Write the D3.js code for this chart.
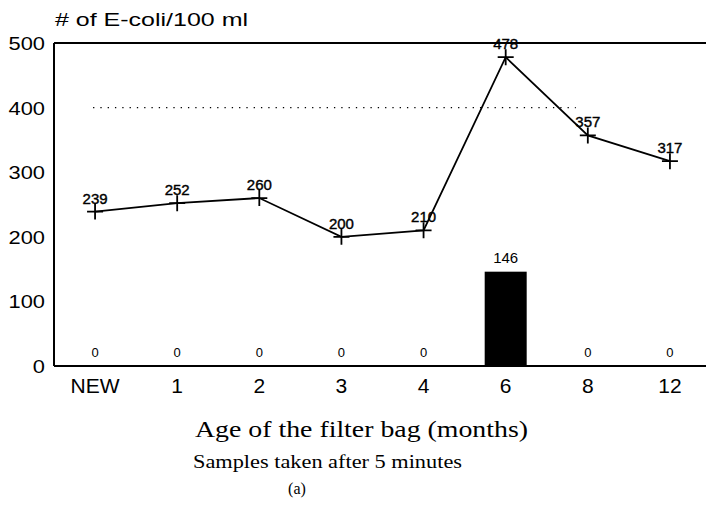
<!DOCTYPE html>
<html>
<head>
<meta charset="utf-8">
<script src="https://cdn.jsdelivr.net/npm/d3@7"></script>
<style>
  body { margin: 0; background: #fff; }
  svg { display: block; }
</style>
</head>
<body>
<svg id="chart" width="706" height="511"></svg>
<script>
// data
const ages = ["NEW", "1", "2", "3", "4", "6", "8", "12"];
const lineValues = [239, 252, 260, 200, 210, 478, 357, 317];
const barValues = [0, 0, 0, 0, 0, 146, 0, 0];
const refLevel = 400;
const yTicks = [0, 100, 200, 300, 400, 500];

const svg = d3.select("#chart");
const plotLeft = 54, plotRight = 711, plotTop = 43, plotBottom = 366;
const sans = "Liberation Sans, Arial, sans-serif";
const serif = "Liberation Serif, Times New Roman, serif";

// scales
const x = d3.scalePoint().domain(ages).range([plotLeft, plotRight]).padding(0.5);
const y = d3.scaleLinear().domain([0, 500]).range([plotBottom, plotTop]);

// frame: top line, left axis
svg.append("line").attr("x1", plotLeft).attr("x2", 706).attr("y1", plotTop).attr("y2", plotTop)
  .attr("stroke", "#000").attr("stroke-width", 1.8);
svg.append("line").attr("x1", plotLeft).attr("x2", plotLeft).attr("y1", plotTop).attr("y2", plotBottom)
  .attr("stroke", "#000").attr("stroke-width", 2);

// reference dotted line at 400
svg.append("line")
  .attr("x1", x("NEW") - 2).attr("x2", x("8") - 12)
  .attr("y1", y(refLevel)).attr("y2", y(refLevel))
  .attr("stroke", "#000").attr("stroke-width", 1.3)
  .attr("stroke-dasharray", "1.3,6");

// bars
const barW = 42;
svg.selectAll(".bar").data(barValues).enter().append("rect")
  .attr("x", (d, i) => x(ages[i]) - barW / 2)
  .attr("y", d => y(d))
  .attr("width", barW)
  .attr("height", d => plotBottom - y(d))
  .attr("fill", "#000");

svg.selectAll(".barlabel").data(barValues).enter().append("text")
  .attr("x", (d, i) => x(ages[i]))
  .attr("y", d => y(d) - 9)
  .attr("text-anchor", "middle")
  .style("font-family", sans)
  .style("font-size", d => d > 0 ? "15px" : "13px")
  .text(d => d);

// baseline
svg.append("line").attr("x1", plotLeft).attr("x2", 706).attr("y1", plotBottom).attr("y2", plotBottom)
  .attr("stroke", "#000").attr("stroke-width", 2);

// line
const line = d3.line().x((d, i) => x(ages[i])).y(d => y(d));
svg.append("path").datum(lineValues)
  .attr("d", line).attr("fill", "none")
  .attr("stroke", "#000").attr("stroke-width", 1.8);

// + markers
const m = 8;
svg.selectAll(".mark").data(lineValues).enter().append("path")
  .attr("d", (d, i) => {
    const cx = x(ages[i]), cy = y(d);
    return "M" + (cx - m) + "," + cy + "H" + (cx + m) + "M" + cx + "," + (cy - m) + "V" + (cy + m);
  })
  .attr("stroke", "#000").attr("stroke-width", 1.8);

svg.selectAll(".linelabel").data(lineValues).enter().append("text")
  .attr("x", (d, i) => x(ages[i]))
  .attr("y", d => y(d) - 8)
  .attr("text-anchor", "middle")
  .style("font-family", sans)
  .style("font-size", "15px")
  .attr("stroke", "#000").attr("stroke-width", 0.4)
  .text(d => d);

// y tick labels (scan is slightly stretched horizontally)
svg.selectAll(".ytick").data(yTicks).enter().append("text")
  .attr("transform", d => "translate(45," + (y(d) + 7) + ") scale(1.15,1)")
  .attr("text-anchor", "end")
  .style("font-family", sans)
  .style("font-size", "19px")
  .text(d => d);

// x tick labels
svg.selectAll(".xtick").data(ages).enter().append("text")
  .attr("x", d => x(d))
  .attr("y", 393)
  .attr("text-anchor", "middle")
  .style("font-family", sans)
  .style("font-size", "21px")
  .text(d => d);

// titles
svg.append("text").attr("x", 55).attr("y", 26)
  .attr("textLength", 193).attr("lengthAdjust", "spacingAndGlyphs")
  .style("font-family", sans)
  .style("font-size", "18px")
  .text("# of E-coli/100 ml");

svg.append("text").attr("x", 195).attr("y", 437)
  .attr("textLength", 333).attr("lengthAdjust", "spacingAndGlyphs")
  .style("font-family", serif)
  .style("font-size", "24px")
  .text("Age of the filter bag (months)");

svg.append("text").attr("x", 193).attr("y", 468)
  .attr("textLength", 269).attr("lengthAdjust", "spacingAndGlyphs")
  .style("font-family", serif)
  .style("font-size", "18px")
  .text("Samples taken after 5 minutes");

svg.append("text").attr("x", 297).attr("y", 494)
  .attr("text-anchor", "middle")
  .style("font-family", serif)
  .style("font-size", "16px")
  .text("(a)");
</script>
</body>
</html>
